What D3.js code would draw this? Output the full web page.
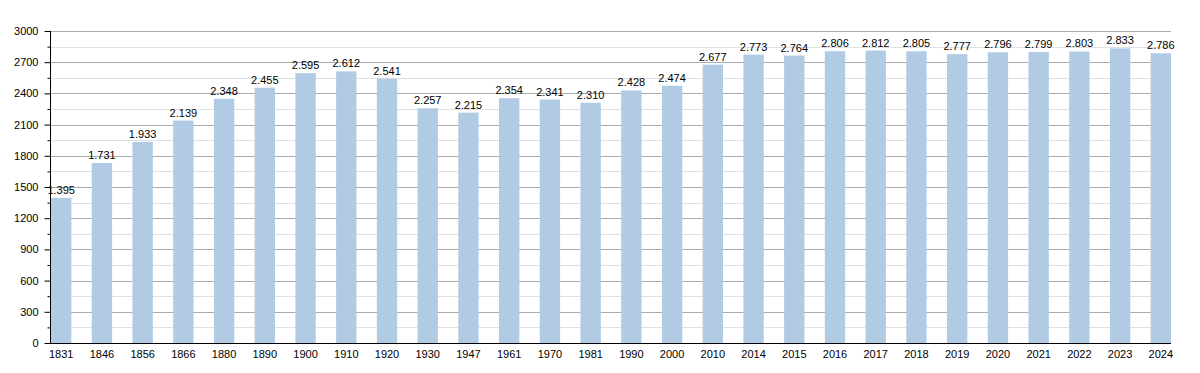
<!DOCTYPE html>
<html>
<head>
<meta charset="utf-8">
<script src="https://cdn.jsdelivr.net/npm/d3@7/dist/d3.min.js"></script>
<style>
  body { margin: 0; background: #fff; }
  svg { display: block; font-family: "Liberation Sans", Arial, sans-serif; }
</style>
</head>
<body>
<svg id="chart" width="1200" height="373"></svg>
<script>
// census years and population
var years = ['1831', '1846', '1856', '1866', '1880', '1890', '1900', '1910', '1920', '1930',
    '1947', '1961', '1970', '1981', '1990', '2000', '2010', '2014', '2015', '2016',
    '2017', '2018', '2019', '2020', '2021', '2022', '2023', '2024'];
var population = [1395, 1731, 1933, 2139, 2348, 2455, 2595, 2612, 2541, 2257,
    2215, 2354, 2341, 2310, 2428, 2474, 2677, 2773, 2764, 2806,
    2812, 2805, 2777, 2796, 2799, 2803, 2833, 2786];
var majorTicks = [0, 300, 600, 900, 1200, 1500, 1800, 2100, 2400, 2700, 3000];
var minorTicks = [150, 450, 750, 1050, 1350, 1650, 1950, 2250, 2550, 2850];

var plotLeft = 50, plotRight = 1171, plotTop = 31, plotBottom = 343;
var svg = d3.select('#chart');

var x = d3.scaleBand()
    .domain(years)
    .range([plotLeft + 1, plotRight])
    .paddingInner(0.5)
    .paddingOuter(0);

var y = d3.scaleLinear()
    .domain([0, 3000])
    .range([plotBottom, plotTop]);

var fmt = function (v) {
    return d3.format(',')(v).replace(/,/g, '.');
};

// gridlines
svg.append('g').selectAll('line')
    .data(minorTicks)
    .enter().append('line')
    .attr('x1', plotLeft).attr('x2', plotRight)
    .attr('y1', function (d) { return Math.round(y(d)) + 0.5; })
    .attr('y2', function (d) { return Math.round(y(d)) + 0.5; })
    .attr('stroke', '#e0e0e0');

svg.append('g').selectAll('line')
    .data(majorTicks.slice(1))
    .enter().append('line')
    .attr('x1', plotLeft).attr('x2', plotRight)
    .attr('y1', function (d) { return Math.round(y(d)) + 0.5; })
    .attr('y2', function (d) { return Math.round(y(d)) + 0.5; })
    .attr('stroke', '#ababab');

// bars
svg.append('g').selectAll('rect')
    .data(population)
    .enter().append('rect')
    .attr('x', function (d, i) { return x(years[i]); })
    .attr('width', x.bandwidth())
    .attr('y', function (d) { return y(d); })
    .attr('height', function (d) { return y(0) - y(d); })
    .attr('fill', '#b1cbe5');

// value labels
svg.append('g').selectAll('text')
    .data(population)
    .enter().append('text')
    .attr('x', function (d, i) { return x(years[i]) + x.bandwidth() / 2; })
    .attr('y', function (d) { return y(d) - 4; })
    .attr('text-anchor', 'middle')
    .attr('font-size', 11)
    .attr('fill', '#000')
    .text(fmt);

// y axis
var yAxis = d3.axisLeft(y).tickValues(majorTicks).tickSize(6).tickPadding(6)
    .tickFormat(d3.format('d'));
var gy = svg.append('g').attr('transform', 'translate(' + (plotLeft + 0.5) + ',0)').call(yAxis);
gy.selectAll('text').attr('font-size', 11).attr('fill', '#000').attr('font-family', null);
gy.selectAll('line').attr('stroke', '#000');
gy.select('.domain').attr('d', 'M0,' + plotTop + 'V' + plotBottom).attr('stroke', '#000');

var yMinor = d3.axisLeft(y).tickValues(minorTicks).tickSize(3).tickFormat('');
var gym = svg.append('g').attr('transform', 'translate(' + (plotLeft + 0.5) + ',0)').call(yMinor);
gym.select('.domain').remove();
gym.selectAll('line').attr('stroke', '#000');

// x axis
var xAxis = d3.axisBottom(x).tickSize(0).tickPadding(7);
var gx = svg.append('g').attr('transform', 'translate(0,' + (plotBottom + 0.5) + ')').call(xAxis);
gx.selectAll('text').attr('font-size', 11).attr('fill', '#000').attr('font-family', null);
gx.select('.domain').attr('d', 'M' + plotLeft + ',0H' + plotRight).attr('stroke', '#000');
</script>
</body>
</html>
